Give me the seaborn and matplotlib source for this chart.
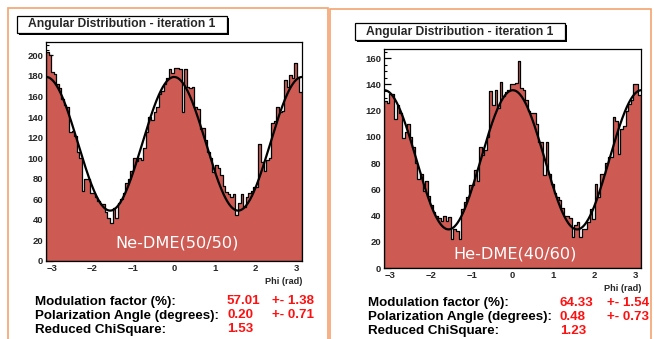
import numpy as np
import pandas as pd
import matplotlib
matplotlib.use("Agg")
import matplotlib.pyplot as plt
import seaborn as sns
from matplotlib.patches import Rectangle
from matplotlib.ticker import MultipleLocator

sns.set_theme(style="white")
plt.rcParams['font.family'] = ['Liberation Sans', 'DejaVu Sans']

# ---------------- data ----------------
ne_counts = [203, 200, 184, 182, 172, 168, 158, 152, 150, 125,
             126, 122, 106, 100, 68, 80, 80, 66, 66, 62,
             58, 55, 55, 48, 42, 37, 52, 42, 56, 60,
             66, 76, 80, 88, 100, 97, 100, 98, 110, 125,
             140, 137, 145, 150, 162, 165, 172, 178, 187, 183,
             188, 188, 187, 145, 187, 169, 168, 169, 150, 148,
             128, 129, 118, 106, 100, 87, 93, 90, 84, 73,
             67, 65, 62, 65, 45, 56, 65, 53, 62, 66,
             68, 72, 72, 114, 96, 88, 98, 100, 134, 136,
             150, 145, 146, 176, 169, 181, 178, 193, 179, 164]

he_counts = [127, 126, 133, 133, 114, 124, 118, 99, 104, 110,
             100, 92, 80, 68, 72, 59, 66, 55, 48, 43,
             40, 38, 36, 40, 36, 39, 22, 30, 28, 22,
             45, 50, 54, 63, 63, 75, 66, 92, 86, 90,
             100, 135, 124, 136, 122, 142, 131, 134, 136, 140,
             140, 141, 158, 137, 136, 128, 120, 118, 118, 110,
             96, 96, 71, 96, 72, 64, 57, 54, 52, 46,
             40, 40, 38, 24, 33, 35, 24, 30, 30, 35,
             45, 37, 64, 54, 72, 72, 80, 85, 85, 115,
             112, 87, 106, 108, 120, 125, 128, 140, 140, 132]

# fit parameters (mean counts, modulation factor, polarization angle in degrees)
ne_fit = dict(mean=114.0, mod=0.5701, angle=0.20)
he_fit = dict(mean=82.5, mod=0.6433, angle=0.48)

panel_titles = ["Angular Distribution - iteration 1", "Angular Distribution - iteration 1"]
gas_labels = ["Ne-DME(50/50)", "He-DME(40/60)"]
ylims = [213, 167]
row_labels = ["Modulation factor (%):", "Polarization Angle (degrees):", "Reduced ChiSquare:"]
ne_values = ["57.01", "0.20", "1.53"]
ne_errors = ["+- 1.38", "+- 0.71", ""]
he_values = ["64.33", "0.48", "1.23"]
he_errors = ["+- 1.54", "+- 0.73", ""]

FILL = "#CD5A53"
ORANGE = "#F4A36E"
W, H = 654, 339

fig = plt.figure(figsize=(W / 100, H / 100), dpi=100)
fig.patch.set_facecolor("white")


def fx(x):
    return x / W


def fy(y):
    return 1 - y / H


def rect_px(x0, y0, x1, y1, **kw):
    r = Rectangle((fx(x0), fy(y1)), fx(x1) - fx(x0), fy(y0) - fy(y1),
                  transform=fig.transFigure, **kw)
    fig.patches.append(r)


# orange panel frames
rect_px(8, 7.5, 328, 345, fill=False, edgecolor=ORANGE, linewidth=1.2)
rect_px(330, 9, 651, 345, fill=False, edgecolor=ORANGE, linewidth=1.2)

edges = np.linspace(-np.pi, np.pi, len(ne_counts) + 1)
centers = 0.5 * (edges[:-1] + edges[1:])
phi_fine = np.linspace(-np.pi, np.pi, 400)

panels = [
    dict(ax=(46, 42, 302, 261), counts=ne_counts, fit=ne_fit,
         title_box=(17, 16, 227, 32.5), gas=(177, 243),
         text_x=(35, 227, 272), text_y=(301.5, 315.5, 329.5),
         values=ne_values, errors=ne_errors),
    dict(ax=(384, 49, 641, 268), counts=he_counts, fit=he_fit,
         title_box=(355, 23, 565, 40), gas=(515, 254),
         text_x=(368, 560, 607), text_y=(303, 317, 331),
         values=he_values, errors=he_errors),
]

for k, p in enumerate(panels):
    x0, y0, x1, y1 = p["ax"]
    ax = fig.add_axes([fx(x0), fy(y1), fx(x1) - fx(x0), fy(y0) - fy(y1)])
    ax.set_facecolor("white")
    df = pd.DataFrame({"phi": centers, "count": np.asarray(p["counts"], float)})
    sns.histplot(data=df, x="phi", weights="count", bins=edges.tolist(),
                 element="step", fill=True, color=FILL, alpha=1.0,
                 edgecolor="black", linewidth=0.9, ax=ax)
    f = p["fit"]
    fit_y = f["mean"] * (1 + f["mod"] * np.cos(2 * (phi_fine - np.deg2rad(f["angle"]))))
    sns.lineplot(x=phi_fine, y=fit_y, color="black", linewidth=1.6, ax=ax)
    ax.set_xlim(-np.pi, np.pi)
    ax.set_ylim(0, ylims[k])
    ax.set_xlabel("")
    ax.set_ylabel("")
    ax.xaxis.set_major_locator(MultipleLocator(1))
    ax.xaxis.set_minor_locator(MultipleLocator(0.2))
    ax.yaxis.set_major_locator(MultipleLocator(20))
    ax.yaxis.set_minor_locator(MultipleLocator(5))
    ax.tick_params(axis="both", which="major", direction="in", length=5,
                   width=0.9, color="black", labelsize=6.8, pad=2,
                   bottom=True, left=True, top=False, right=False)
    ax.tick_params(axis="both", which="minor", direction="in", length=2.5,
                   width=0.8, color="black", bottom=True, left=True,
                   top=False, right=False)
    for lab in ax.get_xticklabels() + ax.get_yticklabels():
        lab.set_fontweight("bold")
    for s in ax.spines.values():
        s.set_color("black")
        s.set_linewidth(0.9)
    ax.text(1.0, -0.075, "Phi (rad)", transform=ax.transAxes, ha="right",
            va="top", fontsize=6.6, fontweight="bold")

    # title box with shadow
    bx0, by0, bx1, by1 = p["title_box"]
    rect_px(bx0 + 2, by0 + 2, bx1 + 2, by1 + 2, facecolor="black", edgecolor="black",
            linewidth=0)
    rect_px(bx0, by0, bx1, by1, facecolor="white", edgecolor="black", linewidth=0.9)
    fig.text(fx((bx0 + bx1) / 2), fy((by0 + by1) / 2), panel_titles[k],
             ha="center", va="center", fontsize=8.7, fontweight="bold")

    # gas label
    gx, gy = p["gas"]
    fig.text(fx(gx), fy(gy), gas_labels[k], ha="center", va="center",
             fontsize=11.6, color="white", family=["DejaVu Sans"])

    # result text
    tx0, tx1, tx2 = p["text_x"]
    for j in range(3):
        ty = p["text_y"][j]
        fig.text(fx(tx0), fy(ty), row_labels[j], ha="left", va="center",
                 fontsize=9.6, fontweight="bold", color="black")
        fig.text(fx(tx1), fy(ty), p["values"][j], ha="left", va="center",
                 fontsize=9.6, fontweight="bold", color="#FF1010")
        if p["errors"][j]:
            fig.text(fx(tx2), fy(ty), p["errors"][j], ha="left", va="center",
                     fontsize=9.6, fontweight="bold", color="#FF1010")

fig.savefig("out.png", dpi=100, facecolor="white")
